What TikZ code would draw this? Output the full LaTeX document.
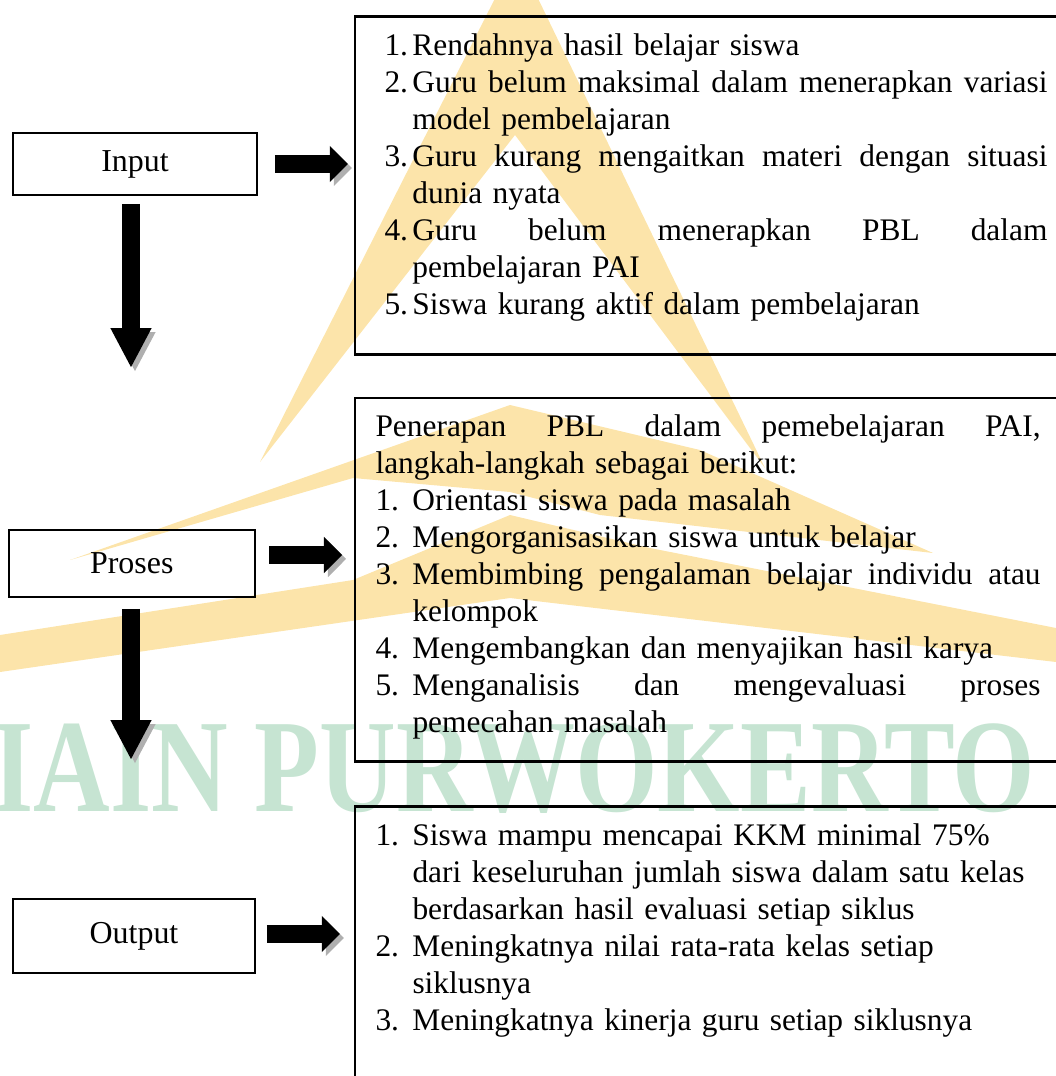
\documentclass[tikz,border=0pt]{standalone}
\usepackage{fontspec}
\usepackage{graphicx}
\setmainfont{Liberation Serif}
\usetikzlibrary{arrows.meta}

\definecolor{kuning}{RGB}{252,228,170}
\definecolor{hijau}{RGB}{198,228,210}
\definecolor{bayang}{RGB}{175,175,175}

\newlength{\nomor}
\newcommand{\butir}[1]{\makebox[\nomor][l]{#1}}
\newcommand{\rata}[2]{\hbox to #1{\spaceskip=0.25em plus 1fil\relax #2}}

\begin{document}
\begin{tikzpicture}[x=0.3759pt, y=-0.3759pt]
\tikzstyle{every node} = [font=\fontsize{12}{13.9}\selectfont]
\tikzstyle{kotak} = [draw, line width=0.75pt, inner sep=0pt]
\tikzstyle{bingkai} = [draw, line width=1pt, anchor=north west, minimum width=275pt, inner sep=0pt]
\tikzstyle{isi} = [anchor=north west, inner sep=0pt, text width=250pt, align=left, font=\fontsize{11.8}{13.9}\selectfont]
\tikzstyle{panahkanan} = [line width=7.1pt, -{Triangle[length=6.8pt, width=13.2pt]}, preaction={draw=bayang, transform canvas={shift={(1.5pt,-1.5pt)}}}]
\tikzstyle{panahbawah} = [line width=6.8pt, -{Triangle[length=15pt, width=14.3pt]}, preaction={draw=bayang, transform canvas={shift={(1.5pt,-1.5pt)}}}]
\useasboundingbox (0,0) rectangle (1056,1076);
\clip (0,0) rectangle (1056,1076);
% watermark
\fill[kuning] (517,-45) -- (765,468) -- (515,135) -- (260,462) -- cycle;
\fill[kuning] (70,560) -- (510,405) -- (700,450) -- (933,553) -- (600,515) -- (510,492) -- (353,478) -- cycle;
\fill[kuning] (0,635) -- (353,580) -- (510,515) -- (650,548) -- (1056,628) -- (1056,662) -- (510,598) -- (0,672) -- cycle;
\node[anchor=west, inner sep=0pt, text=hijau] (iain) at (-8,769) {\resizebox{392pt}{33pt}{\bfseries IAIN PURWOKERTO}};
% kotak kiri
\node[kotak, minimum width=91.7pt, minimum height=23.3pt] (input) at (135,164) {Input};
\node[kotak, minimum width=92.3pt, minimum height=25.2pt] (proses) at (131.75,563.5) {Proses};
\node[kotak, minimum width=90.6pt, minimum height=27.8pt] (output) at (134,936) {Output};
% kotak kanan
\node[bingkai, minimum height=127.2pt] (masalah) at (353.5,15) {};
\node[bingkai, minimum height=136.6pt] (tindakan) at (353.5,396.5) {};
\node[bingkai, minimum height=120pt] (hasil) at (353.5,805) {};
\node[isi] (teksmasalah) at (384,33) {\setlength{\nomor}{10.5pt}%
\butir{1.}Rendahnya hasil belajar siswa\\
\butir{2.}\rata{238.7pt}{Guru belum maksimal dalam menerapkan variasi}\\
\butir{}model pembelajaran\\
\butir{3.}\rata{238.7pt}{Guru kurang mengaitkan materi dengan situasi}\\
\butir{}dunia nyata\\
\butir{4.}\rata{238.7pt}{Guru belum menerapkan PBL dalam}\\
\butir{}pembelajaran PAI\\
\butir{5.}Siswa kurang aktif dalam pembelajaran};
\node[isi] (tekstindakan) at (375,414) {\setlength{\nomor}{13.9pt}%
\rata{250pt}{Penerapan PBL dalam pemebelajaran PAI,}\\
langkah-langkah sebagai berikut:\\
\butir{1.}Orientasi siswa pada masalah\\
\butir{2.}Mengorganisasikan siswa untuk belajar\\
\butir{3.}\rata{236.1pt}{Membimbing pengalaman belajar individu atau}\\
\butir{}kelompok\\
\butir{4.}Mengembangkan dan menyajikan hasil karya\\
\butir{5.}\rata{236.1pt}{Menganalisis dan mengevaluasi proses}\\
\butir{}pemecahan masalah};
\node[isi] (tekshasil) at (375,823) {\setlength{\nomor}{13.9pt}%
\butir{1.}Siswa mampu mencapai KKM minimal 75\%\\
\butir{}dari keseluruhan jumlah siswa dalam satu kelas\\
\butir{}berdasarkan hasil evaluasi setiap siklus\\
\butir{2.}Meningkatnya nilai rata-rata kelas setiap\\
\butir{}siklusnya\\
\butir{3.}Meningkatnya kinerja guru setiap siklusnya};
% panah
\coordinate (ujung1) at (131,368);
\coordinate (ujung2) at (131,760);
\draw[panahkanan, shorten <=6.4pt, shorten >=2.1pt] (input.east) -- (input.east -| masalah.west);
\draw[panahkanan, shorten <=5.1pt, shorten >=4.3pt] ([yshift=3.2pt]proses.east) -- ([yshift=3.2pt]proses.east -| tindakan.west);
\draw[panahkanan, shorten <=4.3pt, shorten >=5.1pt] ([yshift=0.75pt]output.east) -- ([yshift=0.75pt]output.east -| hasil.west);
\draw[panahbawah, shorten <=3pt] (input.south -| ujung1) -- (ujung1);
\draw[panahbawah, shorten <=4.1pt] (proses.south -| ujung2) -- (ujung2);
\end{tikzpicture}
\end{document}
